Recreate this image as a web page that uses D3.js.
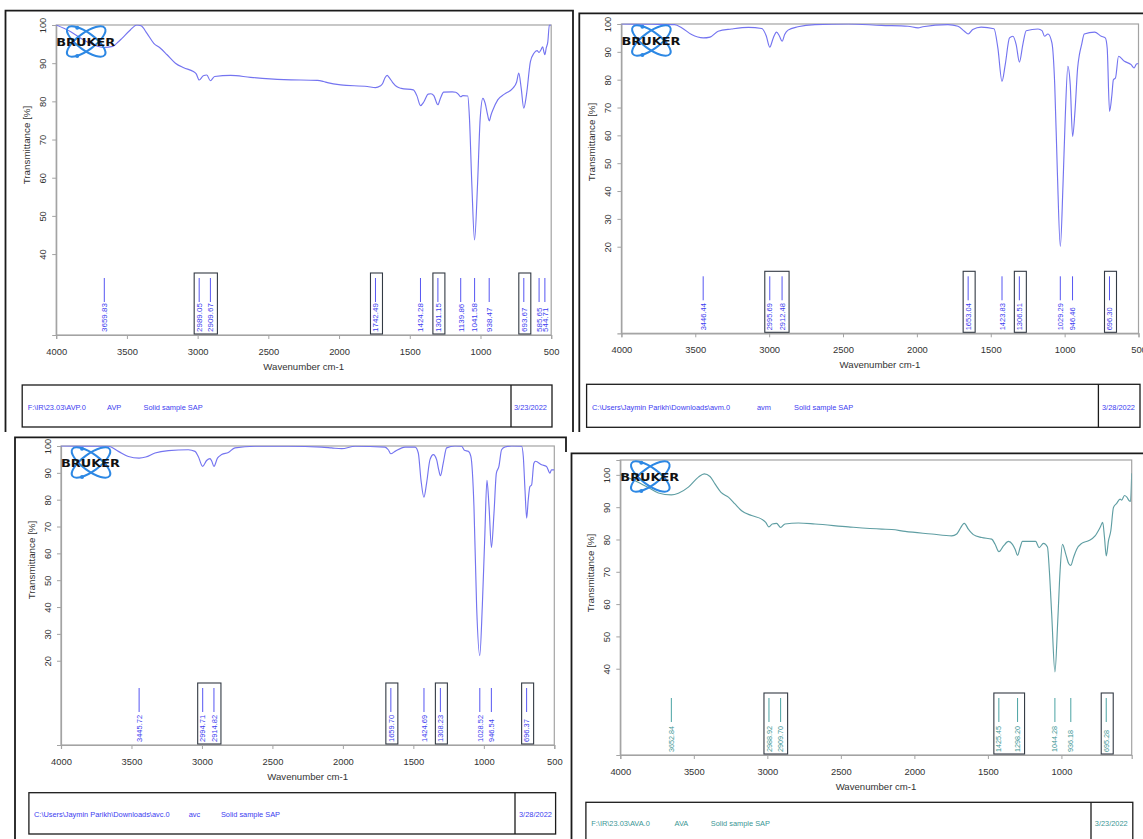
<!DOCTYPE html>
<html>
<head>
<meta charset="utf-8">
<script src="https://cdn.jsdelivr.net/npm/d3@7"></script>
<style>
  body { margin: 0; background: #fff; }
  svg { display: block; }
</style>
</head>
<body>
<svg id="sheet" width="1143" height="839"></svg>
<script>
// ---------- FTIR spectra: [wavenumber cm-1, transmittance %] ----------
const avpSpectrum = [
  [4000,100],[3900,98.3],[3806,96.1],[3712,94.5],[3660,94.1],[3600,94.4],[3560,95.6],[3535,96.5],
  [3476,98.7],[3430,100],[3400,99.8],[3358,97.8],[3310,95.2],[3263,93.9],[3216,92.2],[3157,90.0],
  [3098,88.8],[3030,87.8],[3010,87.2],[2989,85.6],[2960,86.7],[2935,86.9],[2910,85.4],[2880,86.5],
  [2767,86.8],[2626,86.3],[2389,85.7],[2153,85.5],[2110,85.2],[2082,84.9],[1988,84.3],[1800,83.9],
  [1742,83.6],[1710,84.0],[1693,84.6],[1675,86.2],[1660,86.8],[1645,86.2],[1622,85.0],[1590,83.8],
  [1560,83.4],[1475,83.0],[1450,81.5],[1424,78.9],[1400,79.9],[1370,81.9],[1350,82.0],[1330,81.5],
  [1301,79.1],[1285,80.6],[1260,82.4],[1200,82.5],[1175,82.4],[1155,81.8],[1140,81.2],[1125,81.5],
  [1090,81.4],[1078,75.6],[1061,58.1],[1042,43.7],[1021,58.1],[1002,75.6],[983,80.8],[967,79.5],
  [950,76.5],[938,74.9],[925,76.5],[914,77.6],[878,80.4],[831,81.9],[772,83.4],[745,85.0],
  [729,87.4],[712,83.4],[694,78.2],[675,81.7],[647,90.4],[622,92.6],[600,93.3],[586,92.8],
  [574,93.4],[560,94.3],[552,93.0],[545,92.2],[535,94.0],[524,95.6],[513,100],[500,100]
];
const avmSpectrum = [
  [4000,100],[3800,99.9],[3640,99.8],[3590,98.6],[3525,96.2],[3446,95.0],[3400,95.3],[3345,97.4],
  [3255,98.2],[3140,98.8],[3050,98.4],[3020,95.8],[2996,91.7],[2972,95.0],[2950,97.1],[2930,95.6],
  [2912,93.8],[2895,96.2],[2872,97.8],[2805,99.0],[2690,99.8],[2465,100],[2240,99.5],[2060,99.2],
  [1992,98.6],[1960,99.0],[1790,99.8],[1722,99.2],[1678,97.4],[1653,96.4],[1622,98.0],[1565,98.9],
  [1478,98.3],[1452,91.4],[1424,79.4],[1402,85.4],[1373,95.0],[1350,95.6],[1328,92.6],[1306,86.3],
  [1283,92.6],[1260,97.6],[1180,98.2],[1153,97.6],[1136,95.6],[1113,96.4],[1086,93.2],[1067,78.2],
  [1050,48.3],[1029,20.1],[1011,42.3],[996,66.2],[978,84.8],[962,78.2],[946,59.6],[930,68.6],
  [912,84.2],[900,89.0],[885,92.6],[867,96.4],[797,97.1],[752,95.6],[725,95.0],[712,91.4],
  [696,68.6],[680,74.6],[670,80.0],[656,80.6],[635,88.4],[595,86.6],[550,85.4],[530,84.2],
  [514,85.6],[500,85.8]
];
const avcSpectrum = [
  [4000,100],[3664,99.9],[3593,98.0],[3522,96.1],[3446,95.5],[3399,95.9],[3333,97.4],[3238,98.3],
  [3097,98.6],[3049,98.0],[3026,96.1],[2995,92.4],[2967,94.6],[2943,95.3],[2930,94.3],[2915,92.4],
  [2890,95.5],[2860,96.8],[2813,97.6],[2766,99.3],[2624,99.9],[2387,99.9],[2151,99.6],[2080,99.3],
  [2009,99.0],[1914,99.9],[1701,99.6],[1678,98.6],[1660,97.1],[1630,98.0],[1559,99.6],[1488,99.6],
  [1465,97.4],[1446,87.4],[1425,80.9],[1406,86.2],[1382,94.9],[1358,96.8],[1335,94.9],[1320,91.1],
  [1308,88.9],[1288,93.6],[1264,99.3],[1205,100],[1157,99.9],[1138,98.4],[1110,98.0],[1092,96.1],
  [1070,77.4],[1051,40.0],[1029,21.9],[1011,40.0],[994,65.0],[978,87.2],[963,77.4],[946,62.2],
  [928,74.9],[911,89.9],[893,92.4],[874,98.6],[850,99.6],[803,100],[732,99.9],[720,96.1],
  [708,83.7],[696,73.1],[685,79.9],[673,84.9],[661,85.5],[645,93.6],[633,94.3],[590,93.0],
  [555,92.4],[531,89.9],[520,91.1],[500,91.1]
];
const avaSpectrum = [
  [4000,100.1],[3900,98.2],[3810,96.1],[3741,94.4],[3653,93.8],[3605,94.3],[3537,96.2],[3469,99.3],
  [3429,100.3],[3390,99.5],[3356,97.2],[3315,94.6],[3265,93.1],[3220,91.0],[3175,88.9],[3107,87.4],
  [3039,86.3],[3011,85.3],[2989,83.9],[2966,84.8],[2937,85.0],[2910,83.7],[2880,84.8],[2789,85.1],
  [2676,84.8],[2449,83.9],[2222,83.2],[2154,83.1],[2063,82.5],[1882,81.7],[1746,81.1],[1712,81.7],
  [1660,85.0],[1633,83.2],[1599,81.5],[1542,80.6],[1474,80.1],[1451,78.5],[1425,76.2],[1394,78.0],
  [1360,79.4],[1333,78.5],[1315,77.0],[1298,75.1],[1281,77.5],[1265,79.4],[1175,79.4],[1152,77.5],
  [1122,78.8],[1095,77.7],[1082,70.3],[1066,56.8],[1044,39.0],[1025,54.7],[1009,70.3],[993,78.5],
  [970,75.4],[950,72.5],[936,72.0],[918,74.4],[896,77.0],[862,78.8],[816,79.6],[771,81.1],
  [737,83.7],[719,85.3],[707,80.6],[695,74.9],[680,79.6],[664,82.7],[646,89.9],[624,91.2],
  [601,92.5],[590,92.2],[571,93.6],[555,93.1],[539,92.0],[530,91.8],[522,100.5]
];

// ---------- picked peaks and the groups outlined by frames ----------
const avpPeaks = [3659.83, 2989.05, 2909.67, 1742.49, 1424.28, 1301.15, 1139.86, 1041.58, 938.47, 693.67, 585.65, 544.71];
const avpPeakGroups = [[2989.05, 2909.67], [1742.49], [1301.15], [693.67]];
const avmPeaks = [3446.44, 2995.69, 2912.48, 1653.04, 1423.83, 1306.51, 1029.29, 946.46, 696.30];
const avmPeakGroups = [[2995.69, 2912.48], [1653.04], [1306.51], [696.30]];
const avcPeaks = [3445.72, 2994.71, 2914.82, 1659.70, 1424.69, 1308.23, 1028.52, 946.54, 696.37];
const avcPeakGroups = [[2994.71, 2914.82], [1659.70], [1308.23], [696.37]];
const avaPeaks = [3652.84, 2988.92, 2909.70, 1425.45, 1298.20, 1044.28, 936.18, 695.28];
const avaPeakGroups = [[2988.92, 2909.70], [1425.45, 1298.20], [695.28]];

// ---------- tick labels ----------
const wavenumberTicks = [4000, 3500, 3000, 2500, 2000, 1500, 1000, 500];
const wavenumberTicksShort = [4000, 3500, 3000, 2500, 2000, 1500, 1000];
const transmittanceTicks40 = [40, 50, 60, 70, 80, 90, 100];
const transmittanceTicks20 = [20, 30, 40, 50, 60, 70, 80, 90, 100];

// ---------- info-bar texts: file, sample, description, date ----------
const avpInfo = ["F:\\IR\\23.03\\AVP.0", "AVP", "Solid sample SAP", "3/23/2022"];
const avmInfo = ["C:\\Users\\Jaymin Parikh\\Downloads\\avm.0", "avm", "Solid sample SAP", "3/28/2022"];
const avcInfo = ["C:\\Users\\Jaymin Parikh\\Downloads\\avc.0", "avc", "Solid sample SAP", "3/28/2022"];
const avaInfo = ["F:\\IR\\23.03\\AVA.0", "AVA", "Solid sample SAP", "3/23/2022"];

// ---------- page layout of the four printouts ----------
const BLUE = { curve: "#7474f0", mark: "#5656f2", text: "#3c3cf0" };
const TEAL = { curve: "#5f9ea3", mark: "#4aa3a3", text: "#3a9694" };
const FRAME = "#a3a3a3";
const FONT = "'Liberation Sans', Arial, sans-serif";

const panels = [
  { spectrum: avpSpectrum, peaks: avpPeaks, groups: avpPeakGroups, info: avpInfo,
    xTicks: wavenumberTicks, yTicks: transmittanceTicks40, colors: BLUE,
    left: 56.2, right: 551.2, top: 25, bottom: 335, xDomain: [4000, 500], yDomain: [18.8, 100],
    titleY: 145, peakFont: 8,
    border: "M5.5,432V10.7H573V432",
    bar: { x0: 22.2, x1: 552, y0: 385, y1: 427, div: 511, textY: 410, textX: [27.7, 107, 143.5], dateX: 514 } },
  { spectrum: avmSpectrum, peaks: avmPeaks, groups: avmPeakGroups, info: avmInfo,
    xTicks: wavenumberTicks, yTicks: transmittanceTicks20, colors: BLUE,
    left: 621.4, right: 1138.5, top: 24, bottom: 333.3, xDomain: [4000, 500], yDomain: [-11.1, 100],
    titleY: 142, peakFont: 7.5,
    border: "M579.3,432V13.3H1143",
    bar: { x0: 586.6, x1: 1140, y0: 384.3, y1: 427.3, div: 1098.4, textY: 410, textX: [592, 757, 794], dateX: 1102 } },
  { spectrum: avcSpectrum, peaks: avcPeaks, groups: avcPeakGroups, info: avcInfo,
    xTicks: wavenumberTicks, yTicks: transmittanceTicks20, colors: BLUE,
    left: 61, right: 554.3, top: 446, bottom: 745, xDomain: [4000, 500], yDomain: [-11.4, 100],
    titleY: 560, peakFont: 7.5,
    border: "M15,839V437.3H566V452",
    bar: { x0: 28.9, x1: 555.6, y0: 792.7, y1: 834, div: 515, textY: 817, textX: [34, 188.7, 220.9], dateX: 519 } },
  { spectrum: avaSpectrum, peaks: avaPeaks, groups: avaPeakGroups, info: avaInfo,
    xTicks: wavenumberTicksShort, yTicks: transmittanceTicks40, colors: TEAL,
    left: 620.3, right: 1131.7, top: 460, bottom: 755, xDomain: [4000, 522], yDomain: [13.3, 104.6],
    titleY: 573, peakFont: 7.2,
    border: "M571.5,839V453.3H1143",
    bar: { x0: 585.9, x1: 1132.8, y0: 802.3, y1: 850, div: 1091, textY: 826, textX: [591.3, 674.6, 710.8], dateX: 1094.8 } }
];

const svg = d3.select("#sheet");

function drawLogo(g, left, top) {
  const cx = left + 30, cy = top + 16.5, blue = "#2d88e4";
  [36, -36].forEach(a => g.append("ellipse")
    .attr("cx", cx).attr("cy", cy).attr("rx", 23).attr("ry", 8.5)
    .attr("transform", `rotate(${a},${cx},${cy})`)
    .attr("fill", "none").attr("stroke", blue).attr("stroke-width", 2));
  [[-9, -13.8], [-9, 14.6]].forEach(([dx, dy]) => g.append("circle")
    .attr("cx", cx + dx).attr("cy", cy + dy).attr("r", 2).attr("fill", blue));
  g.append("text").attr("x", left).attr("y", top + 20.5)
    .attr("font-family", "'DejaVu Sans', sans-serif").attr("font-weight", "bold")
    .attr("font-size", 11).attr("textLength", 59).attr("lengthAdjust", "spacingAndGlyphs")
    .attr("fill", "#111").text("BRUKER");
}

panels.forEach((p, i) => {
  const g = svg.append("g");
  const x = d3.scaleLinear().domain(p.xDomain).range([p.left, p.right]);
  const y = d3.scaleLinear().domain(p.yDomain).range([p.bottom, p.top]);

  // sheet outline
  g.append("path").attr("d", p.border).attr("fill", "none")
    .attr("stroke", "#1b1b1b").attr("stroke-width", 1.8);

  // plot frame
  g.append("rect").attr("x", p.left).attr("y", p.top)
    .attr("width", p.right - p.left).attr("height", p.bottom - p.top)
    .attr("fill", "none").attr("stroke", FRAME).attr("stroke-width", 1.2);

  // wavenumber axis
  g.append("g").attr("transform", `translate(0,${p.bottom})`)
    .call(d3.axisBottom(x).tickValues(p.xTicks).tickSize(4).tickFormat(d3.format("d")))
    .call(a => {
      a.select(".domain").attr("stroke", FRAME).attr("stroke-width", 1.2);
      a.selectAll(".tick line").attr("stroke", FRAME);
      a.selectAll(".tick text").attr("y", 20).attr("dy", null)
        .attr("font-family", FONT).attr("font-size", 9.4).attr("fill", "#333");
    });
  g.append("text").attr("x", (p.left + p.right) / 2).attr("y", p.bottom + 35)
    .attr("text-anchor", "middle").attr("font-family", FONT).attr("font-size", 9.6)
    .attr("fill", "#333").text("Wavenumber cm-1");

  // transmittance axis (rotated labels)
  g.append("g").attr("transform", `translate(${p.left},0)`)
    .call(d3.axisLeft(y).tickValues(p.yTicks).tickSize(4).tickFormat(d3.format("d")))
    .call(a => {
      a.select(".domain").attr("stroke", FRAME).attr("stroke-width", 1.2);
      a.selectAll(".tick line").attr("stroke", FRAME);
      a.selectAll(".tick text").attr("x", null).attr("dy", null)
        .attr("text-anchor", "middle").attr("transform", "translate(-10.5,0) rotate(-90)")
        .attr("font-family", FONT).attr("font-size", 9.4).attr("fill", "#333");
    });
  g.append("text").attr("transform", `translate(${p.left - 26},${p.titleY}) rotate(-90)`)
    .attr("text-anchor", "middle").attr("font-family", FONT).attr("font-size", 9.8)
    .attr("fill", "#333").text("Transmittance [%]");

  // spectrum trace
  const clipId = "plot-clip-" + i;
  g.append("clipPath").attr("id", clipId).append("rect")
    .attr("x", p.left).attr("y", p.top - 0.5)
    .attr("width", p.right - p.left).attr("height", p.bottom - p.top + 0.5);
  const line = d3.line().x(d => x(d[0])).y(d => y(d[1])).curve(d3.curveMonotoneX);
  g.append("path").datum(p.spectrum).attr("clip-path", `url(#${clipId})`)
    .attr("d", line).attr("fill", "none")
    .attr("stroke", p.colors.curve).attr("stroke-width", 1.15);

  // logo
  drawLogo(g, p.left, p.top);

  // peak group frames
  g.selectAll(null).data(p.groups).join("rect")
    .attr("x", d => x(d[0]) - 5)
    .attr("width", d => x(d[d.length - 1]) - x(d[0]) + 12)
    .attr("y", p.bottom - 62).attr("height", 61)
    .attr("fill", "none").attr("stroke", "#333a44").attr("stroke-width", 1.1);

  // peak markers and labels
  g.selectAll(null).data(p.peaks).join("line")
    .attr("x1", d => x(d)).attr("x2", d => x(d))
    .attr("y1", p.bottom - 57).attr("y2", p.bottom - 33)
    .attr("stroke", p.colors.mark).attr("stroke-width", 1);
  g.selectAll(null).data(p.peaks).join("text")
    .attr("transform", d => `translate(${x(d) + p.peakFont * 0.36},${p.bottom - 3}) rotate(-90)`)
    .attr("font-family", FONT).attr("font-size", p.peakFont)
    .attr("fill", p.colors.text).text(d => d.toFixed(2));

  // info bar
  const b = p.bar;
  g.append("rect").attr("x", b.x0).attr("y", b.y0)
    .attr("width", b.x1 - b.x0).attr("height", b.y1 - b.y0)
    .attr("fill", "none").attr("stroke", "#1b1b1b").attr("stroke-width", 1.3);
  g.append("line").attr("x1", b.div).attr("x2", b.div).attr("y1", b.y0).attr("y2", b.y1)
    .attr("stroke", "#1b1b1b").attr("stroke-width", 1.3);
  const infoX = [...b.textX, b.dateX];
  g.selectAll(null).data(p.info).join("text")
    .attr("x", (d, k) => infoX[k]).attr("y", b.textY)
    .attr("font-family", FONT).attr("font-size", 7.4)
    .attr("fill", p.colors.text).text(d => d);
});
</script>
</body>
</html>
